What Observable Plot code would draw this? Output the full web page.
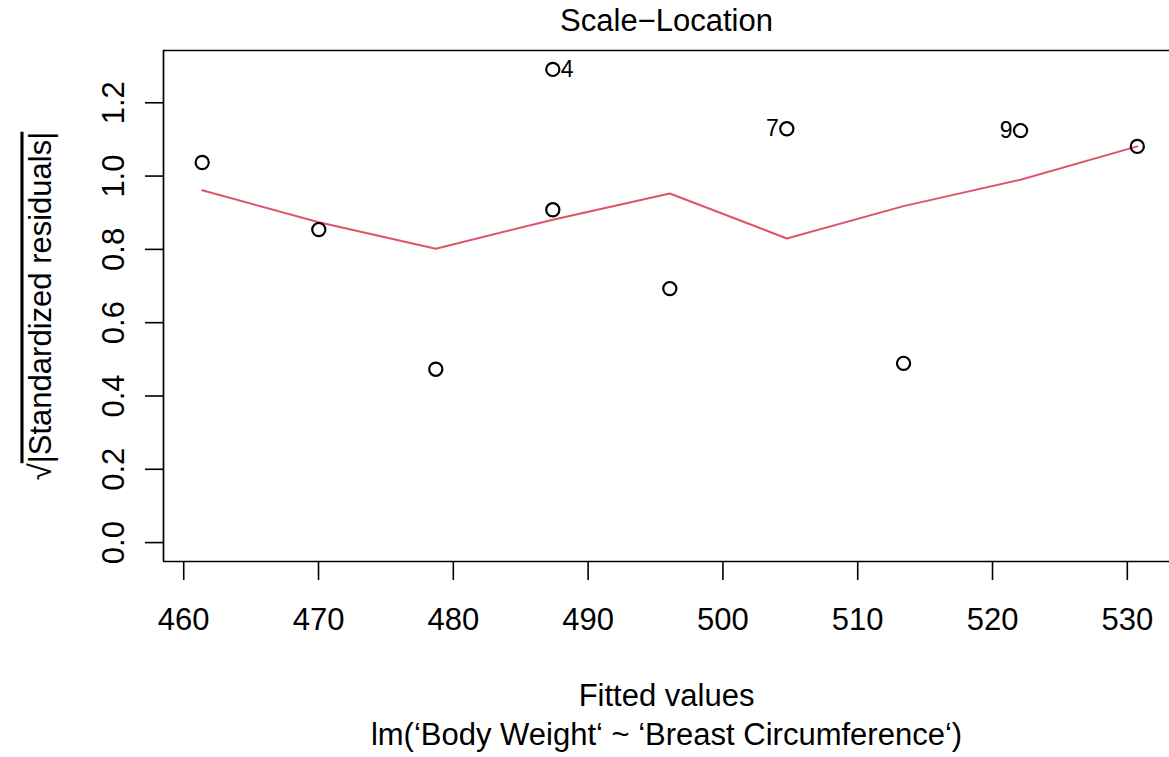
<!DOCTYPE html>
<html>
<head>
<meta charset="utf-8">
<script src="https://cdn.jsdelivr.net/npm/d3@7"></script>
<script src="https://cdn.jsdelivr.net/npm/@observablehq/plot@0.6"></script>
<style>
  html, body { margin: 0; padding: 0; background: white; overflow: hidden; }
  #chart svg { display: block; }
</style>
</head>
<body>
<div id="chart"></div>
<script>
// ---- data ----
const fitted = [461.37, 470.02, 478.70, 487.38, 487.38, 496.06, 504.74, 513.40, 522.08, 530.74];
const sqrtStdResid = [1.037, 0.854, 0.473, 1.291, 0.908, 0.693, 1.129, 0.489, 1.124, 1.081];
const obsIds = [1, 2, 3, 4, 5, 6, 7, 8, 9, 10];
const smoothX = [461.37, 470.02, 478.70, 487.38, 496.06, 504.74, 513.40, 522.08, 530.74];
const smoothY = [0.9615, 0.874, 0.8017, 0.881, 0.9526, 0.8298, 0.918, 0.990, 1.081];
const labeledIds = [4, 7, 9];
const labelSide = ["right", "left", "left"];
const xTicks = [460, 470, 480, 490, 500, 510, 520, 530];
const yTicks = [0.0, 0.2, 0.4, 0.6, 0.8, 1.0, 1.2];
const titleText = "Scale\u2212Location";
const xTitle = "Fitted values";
const subTitle = "lm(\u2018Body Weight\u2018 ~ \u2018Breast Circumference\u2018)";
const yTitle = "\u221A|Standardized residuals|";

// ---- tables built from the arrays ----
const points = fitted.map((x, i) => ({x, y: sqrtStdResid[i], id: obsIds[i]}));
const smooth = smoothX.map((x, i) => ({x, y: smoothY[i]}));
const labels = labeledIds.map((id, i) => ({...points[id - 1], side: labelSide[i]}));

const xDomain = [458.5, 533.5];
const yDomain = [-0.0516, 1.3426];
const font = "'Liberation Sans', Arial, Helvetica, sans-serif";
const ink = "#000";

const chart = Plot.plot({
  width: 1169,
  height: 757,
  marginLeft: 163,
  marginRight: 0,
  marginTop: 50,
  marginBottom: 196,
  x: {domain: xDomain, range: [163, 1174]},
  y: {domain: yDomain},
  style: {fontFamily: font, background: "white", color: ink, overflow: "hidden"},
  marks: [
    // box (right side lies beyond the window)
    Plot.ruleY([yDomain[0], yDomain[1]], {stroke: ink, strokeWidth: 1.7}),
    Plot.ruleX([xDomain[0]], {stroke: ink, strokeWidth: 1.7}),
    Plot.axisX(xTicks, {
      tickSize: 19, tickPadding: 27, fontSize: 31, strokeWidth: 1.6,
      label: null, tickFormat: d => String(d)
    }),
    Plot.axisY(yTicks, {
      tickSize: 18, tickPadding: 22, fontSize: 31, strokeWidth: 1.6,
      tickRotate: -90, label: null, tickFormat: d3.format(".1f")
    }),
    Plot.line(smooth, {x: "x", y: "y", stroke: "#DF536B", strokeWidth: 2}),
    Plot.dot(points, {x: "x", y: "y", r: 6.6, stroke: ink, strokeWidth: 2.2, fill: "none"}),
    Plot.text(labels.filter(d => d.side === "right"), {
      x: "x", y: "y", text: d => String(d.id), textAnchor: "start", dx: 8, fontSize: 23, fill: ink
    }),
    Plot.text(labels.filter(d => d.side === "left"), {
      x: "x", y: "y", text: d => String(d.id), textAnchor: "end", dx: -8, fontSize: 23, fill: ink
    }),
    Plot.text([titleText], {frameAnchor: "top", dy: -29, fontSize: 31, fill: ink, lineAnchor: "middle"}),
    Plot.text([xTitle], {frameAnchor: "bottom", dy: 134.5, fontSize: 31, fill: ink, lineAnchor: "middle"}),
    Plot.text([subTitle], {frameAnchor: "bottom", dy: 174, fontSize: 31, fill: ink, lineAnchor: "middle"}),
    Plot.text([yTitle], {
      frameAnchor: "left", dx: -122, rotate: -90, fontSize: 31, fill: ink,
      textAnchor: "middle", lineAnchor: "middle"
    })
  ]
});

// overline (radical bar) on the y-axis title
chart.querySelectorAll("text").forEach(t => {
  if (t.textContent === yTitle) {
    const host = t.querySelector("tspan") || t;
    host.textContent = "";
    const ns = "http://www.w3.org/2000/svg";
    const a = document.createElementNS(ns, "tspan");
    a.textContent = "\u221A";
    const b = document.createElementNS(ns, "tspan");
    b.textContent = "|Standardized residuals|";
    b.setAttribute("style", "text-decoration: overline;");
    host.appendChild(a);
    host.appendChild(b);
  }
});

document.getElementById("chart").appendChild(chart);
</script>
</body>
</html>
